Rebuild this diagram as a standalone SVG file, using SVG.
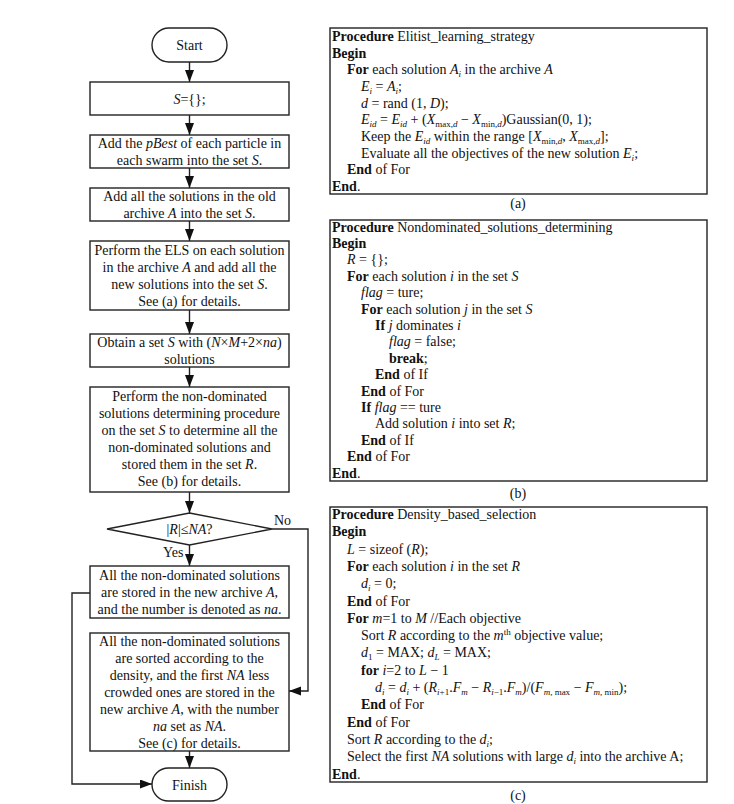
<svg xmlns="http://www.w3.org/2000/svg" width="734" height="804" viewBox="0 0 734 804">
<style>
text{font-family:"Liberation Serif","Times New Roman",serif;font-size:14px;fill:#111}
.c{text-anchor:middle}
.p{font-size:14px}
.i{font-style:italic}
.b{font-weight:bold}
.s{font-size:9px}
.box{fill:#fff;stroke:#222;stroke-width:1.4}
.ln{fill:none;stroke:#222;stroke-width:1.4}
</style>
<defs>
<marker id="ah" markerUnits="userSpaceOnUse" markerWidth="12" markerHeight="10" refX="12" refY="4.5" orient="auto">
<path d="M0,0 L12,4.5 L0,9 z" fill="#111"/>
</marker>
</defs>
<rect width="734" height="804" fill="#fff"/>

<g id="connectors">
<line class="ln" x1="189.5" y1="62" x2="189.5" y2="82" marker-end="url(#ah)"/>
<line class="ln" x1="189.5" y1="115" x2="189.5" y2="135" marker-end="url(#ah)"/>
<line class="ln" x1="189.5" y1="168" x2="189.5" y2="188" marker-end="url(#ah)"/>
<line class="ln" x1="189.5" y1="221" x2="189.5" y2="241" marker-end="url(#ah)"/>
<line class="ln" x1="189.5" y1="310" x2="189.5" y2="334" marker-end="url(#ah)"/>
<line class="ln" x1="189.5" y1="367" x2="189.5" y2="387" marker-end="url(#ah)"/>
<line class="ln" x1="189.5" y1="492" x2="189.5" y2="513" marker-end="url(#ah)"/>
<line class="ln" x1="189.5" y1="545" x2="189.5" y2="566" marker-end="url(#ah)"/>
<line class="ln" x1="189.5" y1="751" x2="189.5" y2="768" marker-end="url(#ah)"/>
<polyline class="ln" points="272,529 308,529 308,691 289,691" marker-end="url(#ah)"/>
<polyline class="ln" points="90,593 72,593 72,784 152,784" marker-end="url(#ah)"/>
<text x="274" y="525">No</text>
<text x="163" y="557">Yes</text>
</g>

<g id="n-start"><rect class="box" x="152" y="28" width="75" height="34" rx="17"/><text class="c" x="189.5" y="50">Start</text></g>

<g id="n-init"><rect class="box" x="90" y="82" width="199" height="33"/><text class="c" x="189.5" y="103.5"><tspan class="i">S</tspan>={};</text></g>

<g id="n-pbest"><rect class="box" x="90" y="135" width="199" height="33"/>
<text class="c" x="189.5" y="148">Add the <tspan class="i">pBest</tspan> of each particle in</text>
<text class="c" x="189.5" y="165">each swarm into the set <tspan class="i">S</tspan>.</text></g>

<g id="n-archive"><rect class="box" x="90" y="188" width="199" height="33"/>
<text class="c" x="189.5" y="201">Add all the solutions in the old</text>
<text class="c" x="189.5" y="218">archive <tspan class="i">A</tspan> into the set <tspan class="i">S</tspan>.</text></g>

<g id="n-els"><rect class="box" x="90" y="241" width="199" height="69"/>
<text class="c" x="189.5" y="255">Perform the ELS on each solution</text>
<text class="c" x="189.5" y="272">in the archive <tspan class="i">A</tspan> and add all the</text>
<text class="c" x="189.5" y="289">new solutions into the set <tspan class="i">S</tspan>.</text>
<text class="c" x="189.5" y="306">See (a) for details.</text></g>

<g id="n-obtain"><rect class="box" x="90" y="334" width="199" height="33"/>
<text class="c" x="189.5" y="347">Obtain a set <tspan class="i">S</tspan> with (<tspan class="i">N</tspan>×<tspan class="i">M</tspan>+2×<tspan class="i">na</tspan>)</text>
<text class="c" x="189.5" y="364">solutions</text></g>

<g id="n-nondom"><rect class="box" x="90" y="387" width="199" height="105"/>
<text class="c" x="189.5" y="401">Perform the  non-dominated</text>
<text class="c" x="189.5" y="418">solutions determining procedure</text>
<text class="c" x="189.5" y="435">on the set <tspan class="i">S</tspan> to determine all the</text>
<text class="c" x="189.5" y="452">non-dominated solutions and</text>
<text class="c" x="189.5" y="469">stored them in the set <tspan class="i">R</tspan>.</text>
<text class="c" x="189.5" y="486">See (b) for details.</text></g>

<g id="n-decision"><polygon class="box" points="189.5,513 272,529 189.5,545 107,529"/>
<text class="c" x="189.5" y="534">|<tspan class="i">R</tspan>|≤<tspan class="i">NA</tspan>?</text></g>

<g id="n-store"><rect class="box" x="90" y="566" width="199" height="52"/>
<text class="c" x="189.5" y="580">All the non-dominated solutions</text>
<text class="c" x="189.5" y="597">are stored in the new archive <tspan class="i">A</tspan>,</text>
<text class="c" x="189.5" y="614">and the number is denoted as <tspan class="i">na</tspan>.</text></g>

<g id="n-sort"><rect class="box" x="90" y="633" width="199" height="118"/>
<text class="c" x="189.5" y="646">All the non-dominated solutions</text>
<text class="c" x="189.5" y="663">are sorted according to the</text>
<text class="c" x="189.5" y="680">density, and the first <tspan class="i">NA</tspan> less</text>
<text class="c" x="189.5" y="697">crowded ones are stored in the</text>
<text class="c" x="189.5" y="714">new archive <tspan class="i">A</tspan>, with the number</text>
<text class="c" x="189.5" y="731"><tspan class="i">na</tspan> set as <tspan class="i">NA</tspan>.</text>
<text class="c" x="189.5" y="748">See (c) for details.</text></g>

<g id="n-finish"><rect class="box" x="152" y="768" width="75" height="33" rx="16.5"/><text class="c" x="189.5" y="789.5">Finish</text></g>

<g id="panel-a"><rect class="box" x="330" y="28" width="377" height="166"/>
<text class="p" x="332" y="41"><tspan class="b">Procedure</tspan> Elitist_learning_strategy</text>
<text class="p b" x="332" y="57.7">Begin</text>
<text class="p" x="347" y="74.3"><tspan class="b">For</tspan> each solution <tspan class="i">A</tspan><tspan class="s i" dy="3">i</tspan><tspan dy="-3"> in the archive </tspan><tspan class="i">A</tspan></text>
<text class="p" x="361" y="91"><tspan class="i">E</tspan><tspan class="s i" dy="3">i</tspan><tspan dy="-3"> = </tspan><tspan class="i">A</tspan><tspan class="s i" dy="3">i</tspan><tspan dy="-3">;</tspan></text>
<text class="p" x="361" y="107.7"><tspan class="i">d</tspan> = rand (1, <tspan class="i">D</tspan>);</text>
<text class="p" x="361" y="124.3"><tspan class="i">E</tspan><tspan class="s i" dy="3">id</tspan><tspan dy="-3"> = </tspan><tspan class="i">E</tspan><tspan class="s i" dy="3">id</tspan><tspan dy="-3"> + (</tspan><tspan class="i">X</tspan><tspan class="s" dy="3">max,<tspan class="i">d</tspan></tspan><tspan dy="-3"> − </tspan><tspan class="i">X</tspan><tspan class="s" dy="3">min,<tspan class="i">d</tspan></tspan><tspan dy="-3">)Gaussian(0, 1);</tspan></text>
<text class="p" x="361" y="141">Keep the <tspan class="i">E</tspan><tspan class="s i" dy="3">id</tspan><tspan dy="-3"> within the range [</tspan><tspan class="i">X</tspan><tspan class="s" dy="3">min,<tspan class="i">d</tspan></tspan><tspan dy="-3">, </tspan><tspan class="i">X</tspan><tspan class="s" dy="3">max,<tspan class="i">d</tspan></tspan><tspan dy="-3">];</tspan></text>
<text class="p" x="361" y="157.7">Evaluate all the objectives of the new solution <tspan class="i">E</tspan><tspan class="s i" dy="3">i</tspan><tspan dy="-3">;</tspan></text>
<text class="p" x="347" y="174.3"><tspan class="b">End</tspan> of For</text>
<text class="p" x="332" y="191"><tspan class="b">End</tspan>.</text>
</g>
<text class="p c" x="518" y="208">(a)</text>

<g id="panel-b"><rect class="box" x="330" y="220" width="377" height="261"/>
<text class="p" x="332" y="231.5"><tspan class="b">Procedure</tspan> Nondominated_solutions_determining</text>
<text class="p b" x="332" y="247.9">Begin</text>
<text class="p" x="347" y="264.3"><tspan class="i">R</tspan> = {};</text>
<text class="p" x="347" y="280.7"><tspan class="b">For</tspan> each solution <tspan class="i">i</tspan> in the set <tspan class="i">S</tspan></text>
<text class="p" x="361" y="297.1"><tspan class="i">flag</tspan> = ture;</text>
<text class="p" x="361" y="313.5"><tspan class="b">For</tspan> each solution <tspan class="i">j</tspan> in the set <tspan class="i">S</tspan></text>
<text class="p" x="375" y="329.9"><tspan class="b">If</tspan> <tspan class="i">j</tspan> dominates <tspan class="i">i</tspan></text>
<text class="p" x="389" y="346.3"><tspan class="i">flag</tspan> = false;</text>
<text class="p" x="389" y="362.7"><tspan class="b">break</tspan>;</text>
<text class="p" x="375" y="379.1"><tspan class="b">End</tspan> of If</text>
<text class="p" x="361" y="395.5"><tspan class="b">End</tspan> of For</text>
<text class="p" x="361" y="411.9"><tspan class="b">If</tspan> <tspan class="i">flag</tspan> == ture</text>
<text class="p" x="375" y="428.3">Add solution <tspan class="i">i</tspan> into set <tspan class="i">R</tspan>;</text>
<text class="p" x="361" y="444.7"><tspan class="b">End</tspan> of If</text>
<text class="p" x="347" y="461.1"><tspan class="b">End</tspan> of For</text>
<text class="p" x="332" y="477.5"><tspan class="b">End</tspan>.</text>
</g>
<text class="p c" x="518" y="498">(b)</text>

<g id="panel-c"><rect class="box" x="330" y="507" width="377" height="275"/>
<text class="p" x="332" y="519"><tspan class="b">Procedure</tspan> Density_based_selection</text>
<text class="p b" x="332" y="536.3">Begin</text>
<text class="p" x="347" y="553.6"><tspan class="i">L</tspan> = sizeof (<tspan class="i">R</tspan>);</text>
<text class="p" x="347" y="570.9"><tspan class="b">For</tspan> each solution <tspan class="i">i</tspan> in the set <tspan class="i">R</tspan></text>
<text class="p" x="361" y="588.2"><tspan class="i">d</tspan><tspan class="s i" dy="3">i</tspan><tspan dy="-3"> = 0;</tspan></text>
<text class="p" x="347" y="605.5"><tspan class="b">End</tspan> of For</text>
<text class="p" x="347" y="622.8"><tspan class="b">For</tspan> <tspan class="i">m</tspan>=1 to <tspan class="i">M</tspan> //Each objective</text>
<text class="p" x="361" y="640.1">Sort <tspan class="i">R</tspan> according to the <tspan class="i">m</tspan><tspan class="s" dy="-5">th</tspan><tspan dy="5"> objective value;</tspan></text>
<text class="p" x="361" y="657.4"><tspan class="i">d</tspan><tspan class="s" dy="3">1</tspan><tspan dy="-3"> = MAX; </tspan><tspan class="i">d</tspan><tspan class="s i" dy="3">L</tspan><tspan dy="-3"> = MAX;</tspan></text>
<text class="p" x="361" y="674.7"><tspan class="b">for</tspan> <tspan class="i">i</tspan>=2 to <tspan class="i">L</tspan> − 1</text>
<text class="p" x="375" y="692"><tspan class="i">d</tspan><tspan class="s i" dy="3">i</tspan><tspan dy="-3"> = </tspan><tspan class="i">d</tspan><tspan class="s i" dy="3">i</tspan><tspan dy="-3"> + (</tspan><tspan class="i">R</tspan><tspan class="s" dy="3"><tspan class="i">i</tspan>+1</tspan><tspan dy="-3">.</tspan><tspan class="i">F</tspan><tspan class="s i" dy="3">m</tspan><tspan dy="-3"> − </tspan><tspan class="i">R</tspan><tspan class="s" dy="3"><tspan class="i">i</tspan>−1</tspan><tspan dy="-3">.</tspan><tspan class="i">F</tspan><tspan class="s i" dy="3">m</tspan><tspan dy="-3">)/(</tspan><tspan class="i">F</tspan><tspan class="s" dy="3"><tspan class="i">m</tspan>, max</tspan><tspan dy="-3"> − </tspan><tspan class="i">F</tspan><tspan class="s" dy="3"><tspan class="i">m</tspan>, min</tspan><tspan dy="-3">);</tspan></text>
<text class="p" x="361" y="709.3"><tspan class="b">End</tspan> of For</text>
<text class="p" x="347" y="726.6"><tspan class="b">End</tspan> of For</text>
<text class="p" x="347" y="743.9">Sort <tspan class="i">R</tspan> according to the <tspan class="i">d</tspan><tspan class="s i" dy="3">i</tspan><tspan dy="-3">;</tspan></text>
<text class="p" x="347" y="761.2">Select the first <tspan class="i">NA</tspan> solutions with large <tspan class="i">d</tspan><tspan class="s i" dy="3">i</tspan><tspan dy="-3"> into the archive A;</tspan></text>
<text class="p" x="332" y="778.5"><tspan class="b">End</tspan>.</text>
</g>
<text class="p c" x="518" y="800">(c)</text>
</svg>
